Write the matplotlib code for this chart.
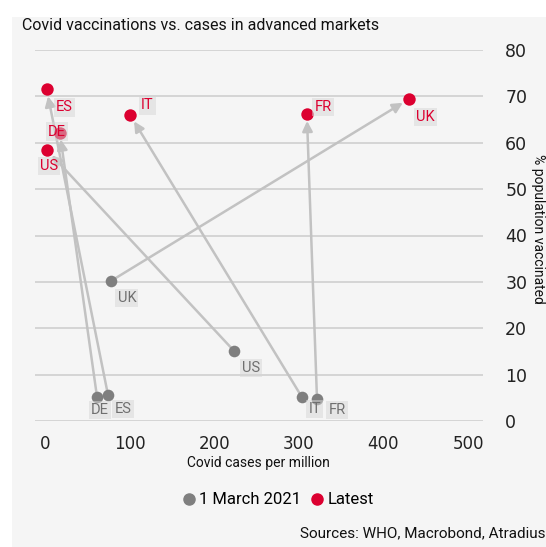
import matplotlib
matplotlib.use("Agg")
import matplotlib.pyplot as plt
from matplotlib.patches import Rectangle
from matplotlib.lines import Line2D

countries = ["DE", "ES", "US", "IT", "FR", "UK"]
cases_march = [61.5, 74.5, 223.5, 303.5, 321.5, 78.0]
vacc_march = [5.2, 5.6, 15.1, 5.2, 4.7, 30.2]
cases_latest = [17.5, 2.0, 2.5, 101.0, 309.5, 430.0]
vacc_latest = [62.2, 71.5, 58.4, 65.9, 66.2, 69.4]
x_ticks = [0, 100, 200, 300, 400, 500]
y_ticks = [0, 10, 20, 30, 40, 50, 60, 70, 80]

# label offsets in pixels (dx, dy upward)
off_march = {"DE": (3, -13), "ES": (15, -14), "US": (17, -17), "IT": (13, -12), "FR": (20, -11), "UK": (16, -17)}
off_latest = {"DE": (-3, 1), "ES": (18, -18), "US": (2, -16), "IT": (17, 10), "FR": (16, 7), "UK": (17, -18)}

GRAY = "#7f7f7f"
RED = "#dc0030"
ARROW = "#c2c2c2"
BG = "#f5f5f5"

W, H = 546, 547
fig = plt.figure(figsize=(W / 100, H / 100), dpi=100)
fig.patch.set_facecolor("white")
fig.patches.append(Rectangle((12 / W, 0), 1 - 12 / W, 1 - 17 / H, transform=fig.transFigure,
                             facecolor=BG, edgecolor="none", zorder=-10))

ax = fig.add_axes([35 / W, 1 - 421 / H, (483 - 35) / W, (421 - 50) / H])
ax.set_facecolor("none")
ax.set_xlim(-11.8, 517.7)
ax.set_ylim(0, 80)
for s in ax.spines.values():
    s.set_visible(False)
ax.yaxis.tick_right()
ax.set_yticks(y_ticks)
ax.set_xticks(x_ticks)
ax.tick_params(axis="y", length=0, pad=16, labelsize=12.5, colors="#222222")
ax.tick_params(axis="x", length=0, pad=10, labelsize=12, colors="#222222")
ax.grid(axis="y", color="#cfcfcf", linewidth=1.2)
ax.grid(axis="x", visible=False)

# arrows
for i in range(len(countries)):
    ax.annotate("", xy=(cases_latest[i], vacc_latest[i]), xytext=(cases_march[i], vacc_march[i]),
                arrowprops=dict(arrowstyle="-|>", color=ARROW, lw=1.8,
                                mutation_scale=15, shrinkA=0, shrinkB=5), zorder=2, annotation_clip=False)

ax.scatter(cases_march, vacc_march, s=70, color=GRAY, zorder=3, clip_on=False, linewidths=0)
ax.scatter(cases_latest, vacc_latest, s=80, color=RED, zorder=3, clip_on=False, linewidths=0)

bbox = dict(boxstyle="square,pad=0.15", facecolor="#d6d6d6", edgecolor="none", alpha=0.5)
for i, c in enumerate(countries):
    dx, dy = off_march[c]
    ax.annotate(c, (cases_march[i], vacc_march[i]), xytext=(dx, dy), textcoords="offset pixels",
                ha="center", va="center", fontsize=10.5, color="#6f6f6f", family="Roboto",
                bbox=bbox, zorder=4, annotation_clip=False)
    dx, dy = off_latest[c]
    ax.annotate(c, (cases_latest[i], vacc_latest[i]), xytext=(dx, dy), textcoords="offset pixels",
                ha="center", va="center", fontsize=10.5, color=RED, family="Roboto",
                bbox=bbox, zorder=4, annotation_clip=False)

fig.text(22 / W, 1 - 25 / H, "Covid vaccinations vs. cases in advanced markets", fontsize=11.5,
         family="Roboto", color="#111111", ha="left", va="center")
fig.text(258 / W, 1 - 463 / H, "Covid cases per million", fontsize=10, family="Roboto",
         color="#111111", ha="center", va="center")
fig.text(538 / W, 1 - 229 / H, "% population vaccinated", fontsize=10, family="Roboto",
         color="#111111", ha="center", va="center", rotation=270)

handles = [Line2D([], [], marker="o", linestyle="none", color=GRAY, markersize=8),
           Line2D([], [], marker="o", linestyle="none", color=RED, markersize=8)]
fig.legend(handles, ["1 March 2021", "Latest"], loc="center", bbox_to_anchor=(277 / W, 1 - 500 / H),
           ncol=2, frameon=False, handletextpad=0.1, columnspacing=0.5, handlelength=1.0,
           prop=dict(family="Roboto", size=12))
fig.text(300 / W, 1 - 533 / H, "Sources: WHO, Macrobond, Atradius", fontsize=11, family="Roboto",
         color="#111111", ha="left", va="center")

fig.savefig("out.png", dpi=100, facecolor=fig.get_facecolor())
